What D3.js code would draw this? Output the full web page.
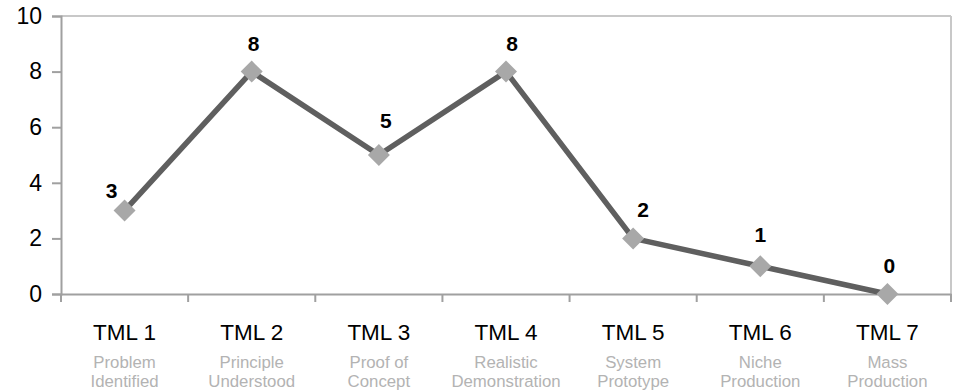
<!DOCTYPE html>
<html>
<head>
<meta charset="utf-8">
<script src="https://cdn.jsdelivr.net/npm/d3@7"></script>
<style>
  html, body { margin: 0; padding: 0; background: #fff; }
  svg { display: block; font-family: "Liberation Sans", Arial, sans-serif; }
</style>
</head>
<body>
<svg id="chart" width="957" height="392"></svg>
<script>
// ---- data ----
const categories = ["TML 1", "TML 2", "TML 3", "TML 4", "TML 5", "TML 6", "TML 7"];
const subLabels = [
  ["Problem", "Identified"],
  ["Principle", "Understood"],
  ["Proof of", "Concept"],
  ["Realistic", "Demonstration"],
  ["System", "Prototype"],
  ["Niche", "Production"],
  ["Mass", "Production"]
];
const values = [3, 8, 5, 8, 2, 1, 0];
const yTicks = [0, 2, 4, 6, 8, 10];
// label offsets relative to each point (as placed in the reference)
const labelDx = [-13, 2, 7, 6, 10, 0, 2];
const labelDy = [-20, -28, -35, -28, -29, -32, -29];

// ---- layout ----
const svg = d3.select("#chart");
const mLeft = 61, mRight = 951, mTop = 16, mBottom = 294;

const x = d3.scaleBand().domain(categories).range([mLeft, mRight]).padding(0);
const y = d3.scaleLinear().domain([0, 10]).range([mBottom, mTop]);

// plot border (top / right)
svg.append("line").attr("x1", mLeft).attr("x2", mRight).attr("y1", mTop).attr("y2", mTop)
  .attr("stroke", "#c8c8c8").attr("stroke-width", 2);
svg.append("line").attr("x1", mRight).attr("x2", mRight).attr("y1", mTop).attr("y2", mBottom)
  .attr("stroke", "#c8c8c8").attr("stroke-width", 2);

// y axis
const yAxis = svg.append("g").attr("transform", `translate(${mLeft},0)`)
  .call(d3.axisLeft(y).tickValues(yTicks).tickSize(9).tickPadding(10).tickFormat(d3.format("d")));
yAxis.select(".domain").attr("stroke", "#a0a0a0").attr("stroke-width", 2);
yAxis.selectAll(".tick line").attr("stroke", "#a0a0a0").attr("stroke-width", 2);
yAxis.selectAll(".tick text").attr("font-size", 23).attr("fill", "#000")
  .attr("font-family", "Liberation Sans, Arial, sans-serif");

// x axis
const xAxis = svg.append("g").attr("transform", `translate(0,${mBottom})`)
  .call(d3.axisBottom(x).tickSize(0).tickFormat(""));
xAxis.select(".domain").attr("stroke", "#a0a0a0").attr("stroke-width", 2);
xAxis.selectAll(".tick").remove();
// category boundary ticks
const boundaries = categories.map(c => x(c)).concat([x(categories[categories.length - 1]) + x.bandwidth()]);
svg.append("g").selectAll("line").data(boundaries).join("line")
  .attr("x1", d => d).attr("x2", d => d)
  .attr("y1", mBottom).attr("y2", mBottom + 8)
  .attr("stroke", "#a0a0a0").attr("stroke-width", 2);

// category labels
const cx = c => x(c) + x.bandwidth() / 2;
svg.append("g").selectAll("text").data(categories).join("text")
  .attr("x", d => cx(d)).attr("y", 340)
  .attr("text-anchor", "middle")
  .attr("font-size", 22.5).attr("fill", "#000")
  .text(d => d);

// sub labels: one text element per category with two lines
const subG = svg.append("g");
categories.forEach((c, i) => {
  const t = subG.append("text")
    .attr("x", cx(c)).attr("y", 368.3)
    .attr("text-anchor", "middle")
    .attr("font-size", 16.8).attr("fill", "#b3b3b3");
  subLabels[i].forEach((line, j) => {
    t.append("tspan").attr("x", cx(c)).attr("dy", j === 0 ? 0 : 18.8).text(line);
  });
});

// line
const lineGen = d3.line().x((d, i) => cx(categories[i])).y(d => y(d));
svg.append("path").datum(values)
  .attr("d", lineGen)
  .attr("fill", "none").attr("stroke", "#5f5f5f").attr("stroke-width", 5.5)
  .attr("stroke-linejoin", "round");

// markers
svg.append("g").selectAll("path").data(values).join("path")
  .attr("transform", (d, i) => `translate(${cx(categories[i])},${y(d)})`)
  .attr("d", "M0,-11L11,0L0,11L-11,0Z")
  .attr("fill", "#a8a8a8");

// data labels
svg.append("g").selectAll("text").data(values).join("text")
  .attr("x", (d, i) => cx(categories[i]) + labelDx[i])
  .attr("y", (d, i) => y(d) + labelDy[i])
  .attr("text-anchor", "middle").attr("dominant-baseline", "central")
  .attr("font-size", 21).attr("font-weight", "bold").attr("fill", "#000")
  .text(d => d);
</script>
</body>
</html>
